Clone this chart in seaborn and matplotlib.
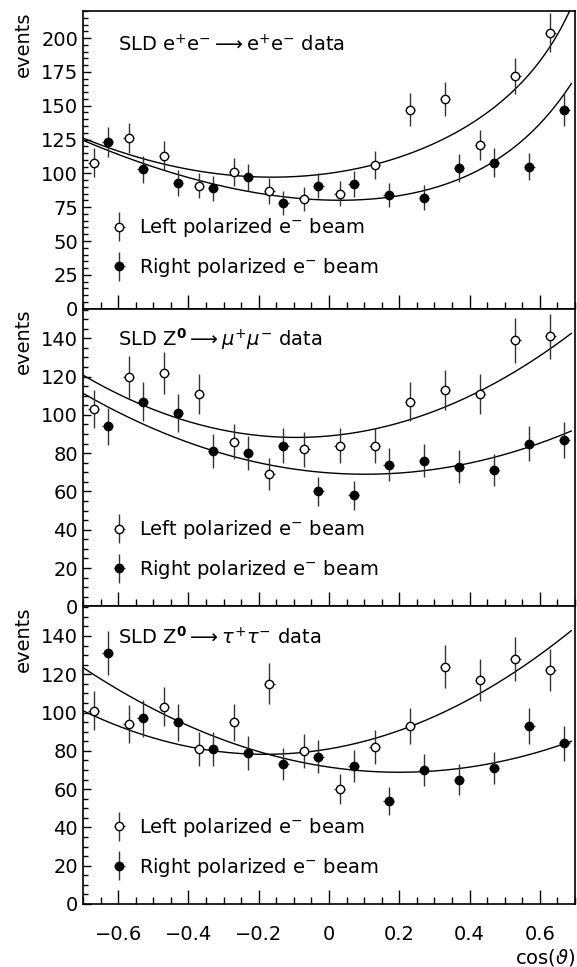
import numpy as np
import pandas as pd
import seaborn as sns
import matplotlib
matplotlib.use('Agg')
from matplotlib import pyplot as plt
from matplotlib.ticker import MultipleLocator, FuncFormatter
from matplotlib.legend_handler import HandlerErrorbar

# bin positions (open points slightly left of the filled ones)
cos_left = [-0.67, -0.57, -0.47, -0.37, -0.27, -0.17, -0.07, 0.03, 0.13, 0.23, 0.33, 0.43, 0.53, 0.63]
cos_right = [-0.63, -0.53, -0.43, -0.33, -0.23, -0.13, -0.03, 0.07, 0.17, 0.27, 0.37, 0.47, 0.57, 0.67]
x_half = 0.015

# e+e- -> e+e-
ee_left = [108, 126, 113, 91, 101, 87, 81, 85, 106, 147, 155, 121, 172, 204]
ee_left_err = [10.4, 11.2, 10.6, 9.5, 10.0, 9.3, 9.0, 9.2, 10.3, 12.1, 12.4, 11.0, 13.1, 14.3]
ee_right = [123, 103, 93, 89, 97, 78, 91, 92, 84, 82, 104, 108, 105, 147]
ee_right_err = [11.1, 10.1, 9.6, 9.4, 9.8, 8.8, 9.5, 9.6, 9.2, 9.1, 10.2, 10.4, 10.2, 12.1]

# mu+mu-
mm_left = [103, 120, 122, 111, 86, 69, 82, 84, 84, 107, 113, 111, 139, 141]
mm_left_err = [10.1, 11.0, 11.0, 10.5, 9.3, 8.3, 9.1, 9.2, 9.2, 10.3, 10.6, 10.5, 11.8, 11.9]
mm_right = [94, 107, 101, 81, 80, 84, 60, 58, 74, 76, 73, 71, 85, 87]
mm_right_err = [9.7, 10.3, 10.0, 9.0, 8.9, 9.2, 7.7, 7.6, 8.6, 8.7, 8.5, 8.4, 9.2, 9.3]

# tau+tau-
tt_left = [101, 94, 103, 81, 95, 115, 80, 60, 82, 93, 124, 117, 128, 122]
tt_left_err = [10.0, 9.7, 10.1, 9.0, 9.7, 10.7, 8.9, 7.7, 9.1, 9.6, 11.1, 10.8, 11.3, 11.0]
tt_right = [131, 97, 95, 81, 79, 73, 77, 72, 54, 70, 65, 71, 93, 84]
tt_right_err = [11.4, 9.8, 9.7, 9.0, 8.9, 8.5, 8.8, 8.5, 7.3, 8.4, 8.1, 8.4, 9.6, 9.2]

# fit curves: n = c0 + c1*x + c2*x^2 + c3/(1-x) + c4/(1-x)^2
ee_fit_left = [85.278, 15.4, 90.202, 9.602, 5.115]
ee_fit_right = [13.614, -68.03, 46.522, 71.799, -5.185]
mm_fit_left = [89.0, 16.6, 88.6, 0, 0]
mm_fit_right = [69.7, -13.5, 65.6, 0, 0]
tt_fit_left = [81.0, 31.0, 85.0, 0, 0]
tt_fit_right = [71.5, -27.0, 67.5, 0, 0]


def basis(x):
    x = np.asarray(x, dtype=float)
    return np.stack([np.ones_like(x), x, x**2, 1 / (1 - x), 1 / (1 - x)**2], axis=1)


sns.set_style('ticks')
plt.rcParams['font.family'] = ['DejaVu Sans']
plt.rcParams['mathtext.fontset'] = 'dejavusans'
plt.rcParams['axes.linewidth'] = 1.2
for k in ('text.color', 'axes.labelcolor', 'xtick.color', 'ytick.color', 'axes.edgecolor'):
    plt.rcParams[k] = 'black'

fig, axes = plt.subplots(3, 1, figsize=(5.77, 9.67), dpi=100, sharex=True)
fig.subplots_adjust(left=0.1438, right=0.9965, top=0.9886, bottom=0.0652, hspace=0)

panels = [
    dict(title=r'SLD e$^{+}$e$^{-}$$\longrightarrow$e$^{+}$e$^{-}$ data',
         left=ee_left, left_err=ee_left_err, right=ee_right, right_err=ee_right_err,
         fit_left=ee_fit_left, fit_right=ee_fit_right, ymax=220, major=25, ty=0.886, ly=0.205),
    dict(title=r'SLD Z$^{\mathbf{0}}$$\longrightarrow$$\mu^{+}\mu^{-}$ data',
         left=mm_left, left_err=mm_left_err, right=mm_right, right_err=mm_right_err,
         fit_left=mm_fit_left, fit_right=mm_fit_right, ymax=155.5, major=20, ty=0.898, ly=0.19),
    dict(title=r'SLD Z$^{\mathbf{0}}$$\longrightarrow$$\tau^{+}\tau^{-}$ data',
         left=tt_left, left_err=tt_left_err, right=tt_right, right_err=tt_right_err,
         fit_left=tt_fit_left, fit_right=tt_fit_right, ymax=155.5, major=20, ty=0.899, ly=0.19),
]

grid = np.linspace(-0.7, 0.69, 300)
fs = 14
for ax, p in zip(axes, panels):
    for coef in (p['fit_left'], p['fit_right']):
        curve = pd.DataFrame({'cos': grid, 'n': basis(grid) @ np.asarray(coef, dtype=float)})
        sns.lineplot(data=curve, x='cos', y='n', ax=ax, color='black', lw=1.0)
    h_l = ax.errorbar(cos_left, p['left'], yerr=p['left_err'], xerr=x_half, fmt='o', ms=6,
                      mfc='white', mec='black', mew=1.0, ecolor='0.2', elinewidth=1.0, capsize=0)
    h_r = ax.errorbar(cos_right, p['right'], yerr=p['right_err'], xerr=x_half, fmt='o', ms=6,
                      mfc='black', mec='black', ecolor='0.2', elinewidth=1.0, capsize=0)
    ax.set_xlim(-0.7, 0.7)
    ax.set_ylim(0, p['ymax'])
    ax.yaxis.set_major_locator(MultipleLocator(p['major']))
    ax.yaxis.set_minor_locator(MultipleLocator(5))
    ax.xaxis.set_major_locator(MultipleLocator(0.2))
    ax.xaxis.set_minor_locator(MultipleLocator(0.05))
    ax.tick_params(axis='x', which='major', direction='in', length=10, width=1.0, pad=15, labelsize=fs)
    ax.tick_params(axis='x', which='minor', direction='in', length=5, width=1.0)
    ax.tick_params(axis='y', which='major', direction='in', length=6, width=1.0, pad=3.5, labelsize=fs)
    ax.tick_params(axis='y', which='minor', direction='in', length=3.5, width=1.0)
    for s in ax.spines.values():
        s.set_visible(True)
        s.set_linewidth(1.2)
        s.set_color('black')
    ax.set_xlabel('')
    ax.set_ylabel('events', loc='top', fontsize=fs, labelpad=6)
    ax.text(0.071, p['ty'], p['title'], transform=ax.transAxes, fontsize=fs, va='center', ha='left')
    ax.legend([h_l, h_r], [r'Left polarized e$^{-}$ beam', r'Right polarized e$^{-}$ beam'],
              loc='center left', bbox_to_anchor=(0.038, p['ly']), frameon=False, fontsize=fs,
              handlelength=1.0, handletextpad=0.5, labelspacing=0.85, borderaxespad=0,
              handler_map={type(h_l): HandlerErrorbar(xerr_size=0.28, yerr_size=0.75)})

axes[-1].xaxis.set_major_formatter(FuncFormatter(lambda v, pos: ('%g' % round(v, 2)).replace('-', '\u2212')))
axes[-1].set_xlabel(r'cos($\vartheta$)', loc='right', fontsize=fs, labelpad=2)

fig.savefig('out.png', dpi=100)
